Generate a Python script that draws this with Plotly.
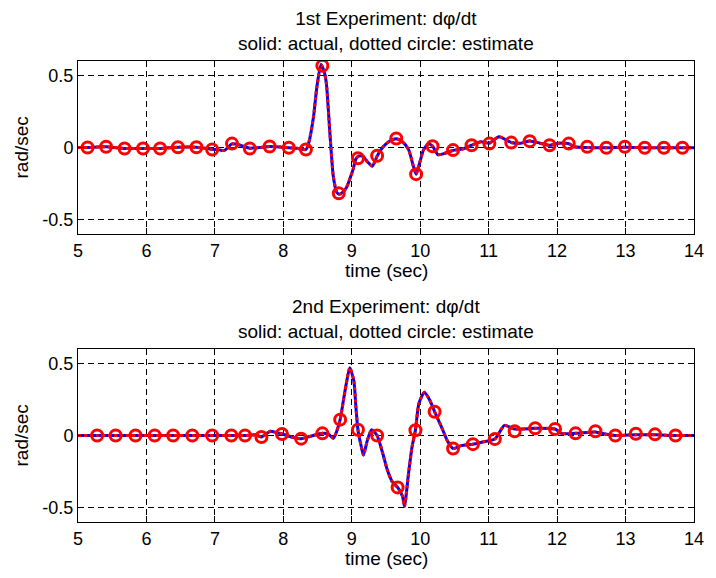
import plotly.graph_objects as go

# ---- 1st experiment: actual dphi/dt (dense trace) ----
t1 = [5.0, 5.14, 5.41, 5.68, 5.95, 6.20, 6.46, 6.73, 6.96, 7.05, 7.14, 7.25, 7.38, 7.51,
      7.65, 7.80, 7.95, 8.08, 8.20, 8.33, 8.37, 8.44, 8.49, 8.55, 8.60, 8.63, 8.68, 8.73,
      8.78, 8.82, 8.87, 8.92, 8.97, 9.02, 9.06, 9.10, 9.16, 9.23, 9.30, 9.37, 9.45, 9.54,
      9.65, 9.74, 9.83, 9.90, 9.94, 9.99, 10.05, 10.12, 10.18, 10.26, 10.36, 10.48, 10.62,
      10.75, 10.89, 11.01, 11.15, 11.33, 11.47, 11.60, 11.75, 11.89, 12.02, 12.17, 12.25,
      12.44, 12.72, 13.00, 13.28, 13.56, 13.83, 14.0]
v1 = [0.0, 0.0, 0.005, -0.007, -0.007, -0.007, 0.002, 0.002, -0.012, -0.015, -0.02, 0.025,
      0.015, -0.005, 0.0, 0.007, 0.004, -0.002, -0.005, -0.014, 0.03, 0.21, 0.42, 0.575,
      0.52, 0.44, 0.10, -0.20, -0.31, -0.325, -0.31, -0.28, -0.22, -0.15, -0.08, -0.06,
      -0.06, -0.10, -0.13, -0.06, 0.0, 0.04, 0.06, 0.04, -0.015, -0.13, -0.185, -0.11,
      -0.015, 0.025, 0.01, -0.05, -0.04, -0.02, -0.01, 0.016, 0.04, 0.03, 0.075, 0.035,
      0.03, 0.045, 0.03, 0.015, 0.03, 0.027, 0.005, 0.0, -0.002, 0.002, -0.002, -0.002,
      -0.002, -0.002]

# 1st experiment: estimate samples (circles)
t1_est = [5.14, 5.41, 5.68, 5.95, 6.20, 6.46, 6.73, 6.96, 7.25, 7.51, 7.80, 8.08, 8.33,
          8.57, 8.81, 9.09, 9.37, 9.65, 9.94, 10.18, 10.48, 10.75, 11.01, 11.33, 11.60,
          11.89, 12.17, 12.44, 12.72, 12.99, 13.28, 13.56, 13.83]
v1_est = [0.0, 0.005, -0.007, -0.007, -0.007, 0.002, 0.002, -0.014, 0.027, -0.007, 0.007,
          -0.002, -0.014, 0.567, -0.318, -0.075, -0.057, 0.062, -0.185, 0.009, -0.018,
          0.016, 0.027, 0.034, 0.044, 0.016, 0.027, 0.005, -0.002, 0.005, -0.002, -0.002,
          -0.002]

# ---- 2nd experiment: actual dphi/dt (dense trace) ----
t2 = [5.0, 5.28, 5.6, 6.0, 6.4, 6.8, 7.2, 7.44, 7.6, 7.68, 7.81, 7.90, 7.99, 8.12, 8.26,
      8.40, 8.57, 8.66, 8.73, 8.78, 8.83, 8.88, 8.92, 8.97, 9.03, 9.06, 9.09, 9.14, 9.17,
      9.23, 9.29, 9.37, 9.45, 9.52, 9.59, 9.67, 9.74, 9.77, 9.83, 9.88, 9.93, 9.98, 10.06,
      10.14, 10.21, 10.31, 10.40, 10.48, 10.60, 10.77, 10.91, 11.09, 11.23, 11.38, 11.68,
      11.97, 12.06, 12.27, 12.56, 12.70, 12.85, 13.15, 13.43, 13.73, 14.0]
v2 = [0.0, 0.0, 0.0, 0.0, 0.0, 0.0, 0.0, 0.0, 0.005, -0.01, 0.03, 0.02, 0.01, -0.01,
      -0.022, -0.005, 0.015, 0.01, -0.02, 0.03, 0.11, 0.25, 0.36, 0.47, 0.38, 0.2, 0.04,
      -0.08, -0.135, -0.03, 0.04, 0.0, -0.12, -0.24, -0.32, -0.36, -0.42, -0.49, -0.26,
      -0.08, 0.036, 0.22, 0.30, 0.245, 0.165, 0.06, -0.04, -0.09, -0.07, -0.06, -0.045,
      -0.025, 0.07, 0.045, 0.05, 0.045, 0.015, 0.015, 0.025, 0.01, 0.0, 0.005, 0.005, 0.0,
      0.0]

# 2nd experiment: estimate samples (circles)
t2_est = [5.28, 5.55, 5.84, 6.12, 6.39, 6.67, 6.96, 7.24, 7.44, 7.68, 7.98, 8.26, 8.57,
          8.83, 9.09, 9.37, 9.67, 9.93, 10.21, 10.48, 10.77, 11.09, 11.38, 11.68, 11.97,
          12.27, 12.56, 12.85, 13.15, 13.43, 13.73]
v2_est = [0.0, 0.0, 0.0, 0.0, 0.0, 0.0, 0.0, 0.0, 0.0, -0.01, 0.01, -0.022, 0.015, 0.11,
          0.04, 0.0, -0.36, 0.036, 0.165, -0.09, -0.06, -0.025, 0.03, 0.05, 0.045, 0.015,
          0.03, 0.0, 0.012, 0.008, 0.0]

x_ticks = list(range(5, 15))
y_ticks = [-0.5, 0, 0.5]

titles = ["1st Experiment: d\u03c6/dt<br>solid: actual, dotted circle: estimate",
          "2nd Experiment: d\u03c6/dt<br>solid: actual, dotted circle: estimate"]
x_title = "time (sec)"
y_title = "rad/sec"

FONT = "Liberation Sans, Arial, Helvetica, sans-serif"
FS = 18      # tick labels
FS_T = 19    # titles and axis labels

fig = go.Figure()

panels = [(t1, v1, t1_est, v1_est, "x", "y"), (t2, v2, t2_est, v2_est, "x2", "y2")]
for t, v, te, ve, xa, ya in panels:
    # actual: solid blue
    fig.add_trace(go.Scatter(x=t, y=v, mode="lines", xaxis=xa, yaxis=ya,
                             line=dict(color="#0000ff", width=3, shape="spline",
                                       smoothing=0.6),
                             showlegend=False))
    # estimate: red dotted line
    fig.add_trace(go.Scatter(x=t, y=v, mode="lines", xaxis=xa, yaxis=ya,
                             line=dict(color="#ff0000", width=3, dash="3px,3px",
                                       shape="spline", smoothing=0.6),
                             showlegend=False))
    # estimate: red circles
    fig.add_trace(go.Scatter(x=te, y=ve, mode="markers", xaxis=xa, yaxis=ya,
                             marker=dict(symbol="circle-open", size=11, color="#ff0000",
                                         line=dict(color="#ff0000", width=3)),
                             showlegend=False))

W, H = 716, 578
ML, MR, MT, MB = 78, 13, 61, 56
ph = H - MT - MB
top_dom = [1 - 173 / ph, 1]
bot_dom = [0, 173 / ph]

xcommon = dict(range=[5, 14], tickvals=x_ticks, ticks="inside", ticklen=6,
               tickcolor="black", showline=True, linecolor="black", linewidth=1,
               mirror="ticks", showgrid=True, gridcolor="black", gridwidth=1,
               griddash="6px,4px", zeroline=False,
               tickfont=dict(family=FONT, size=FS, color="black"), domain=[0, 1])
ycommon = dict(range=[-0.6, 0.6], tickvals=y_ticks, ticktext=["-0.5", "0", "0.5"],
               ticks="inside", ticklen=6, tickcolor="black", showline=True,
               linecolor="black", linewidth=1, mirror="ticks", showgrid=True,
               gridcolor="black", gridwidth=1, griddash="6px,4px", zeroline=False,
               tickfont=dict(family=FONT, size=FS, color="black"))

annotations = []
for dom, title in [(top_dom, titles[0]), (bot_dom, titles[1])]:
    annotations.append(dict(text=title, x=0.5, y=dom[1], xref="paper", yref="paper",
                            xanchor="center", yanchor="bottom", yshift=5, showarrow=False,
                            font=dict(family=FONT, size=FS_T, color="black")))
    annotations.append(dict(text=x_title, x=0.5, y=dom[0], xref="paper", yref="paper",
                            xanchor="center", yanchor="top", yshift=-24, showarrow=False,
                            font=dict(family=FONT, size=FS_T, color="black")))
    annotations.append(dict(text=y_title, x=0, y=(dom[0] + dom[1]) / 2, xref="paper",
                            yref="paper", xanchor="center", yanchor="middle", xshift=-57,
                            textangle=-90, showarrow=False,
                            font=dict(family=FONT, size=FS_T, color="black")))

fig.update_layout(
    width=W, height=H,
    margin=dict(l=ML, r=MR, t=MT, b=MB),
    paper_bgcolor="white", plot_bgcolor="white",
    xaxis=dict(xcommon, anchor="y"),
    yaxis=dict(ycommon, domain=top_dom, anchor="x"),
    xaxis2=dict(xcommon, anchor="y2"),
    yaxis2=dict(ycommon, domain=bot_dom, anchor="x2"),
    annotations=annotations,
    font=dict(family=FONT, size=FS, color="black"),
)

fig.write_html("out.html")
